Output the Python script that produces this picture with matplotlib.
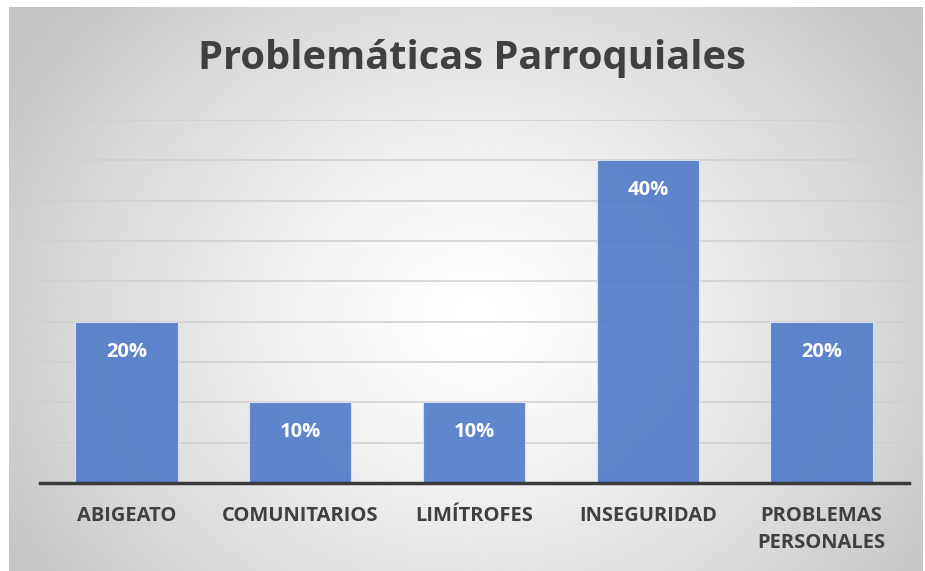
import matplotlib.pyplot as plt
import numpy as np

# Data
categories = ['ABIGEATO', 'COMUNITARIOS', 'LIMÍTROFES', 'INSEGURIDAD', 'PROBLEMAS\nPERSONALES']
shares = [0.20, 0.10, 0.10, 0.40, 0.20]
labels = ['20%', '10%', '10%', '40%', '20%']

W, H = 925, 571
fig = plt.figure(figsize=(W / 100, H / 100), dpi=100)
fig.patch.set_facecolor('white')

# radial gradient background for the chart box
bg = fig.add_axes([9 / W, 0, (W - 11) / W, (H - 7) / H])
yy, xx = np.mgrid[0:300, 0:500]
cx, cy = 255, 165
r = np.sqrt(((xx - cx) / 300.0) ** 2 + ((yy - cy) / 250.0) ** 2)
r = np.clip(r, 0, 1)
shade = 1.0 - 0.23 * r ** 1.3
bg.imshow(shade, cmap='gray', vmin=0, vmax=1, aspect='auto', interpolation='bilinear')
bg.axis('off')

ax = fig.add_axes([39.5 / W, (H - 483) / H, (908.5 - 39.5) / W, (483 - 120) / H])
ax.patch.set_alpha(0)

x = np.arange(len(categories))
bars = ax.bar(x, shares, width=0.59, color='#4f7ac8', alpha=0.9,
              edgecolor='#dce6f5', linewidth=0.8, zorder=3)

for xi, v, lab in zip(x, shares, labels):
    ax.annotate(lab, (xi, v), xytext=(0, -21.5), textcoords='offset points',
                ha='center', va='center', color='white', fontsize=14.5,
                fontweight='bold', family='Open Sans', zorder=4)

ax.set_xlim(-0.5, len(categories) - 0.5)
ax.set_ylim(0, 0.45)
ax.set_yticks(np.arange(0.05, 0.451, 0.05))
ax.yaxis.grid(True, color='#cfcfcf', linewidth=1.1, zorder=0)
ax.tick_params(axis='y', left=False, labelleft=False)
ax.tick_params(axis='x', bottom=False, pad=13)
ax.set_xticks(x)
ax.set_xticklabels(categories, fontsize=14.5, fontweight='bold', color='#404040',
                   family='Open Sans', linespacing=1.45, va='top')
for s in ['top', 'right', 'left']:
    ax.spines[s].set_visible(False)
ax.spines['bottom'].set_color('#3a3a3a')
ax.spines['bottom'].set_linewidth(2.5)
ax.spines['bottom'].set_zorder(5)

fig.text(472 / W, 1 - 58 / H, 'Problemáticas Parroquiales', ha='center', va='center',
         fontsize=28.7, fontweight='bold', color='#404040', family='Open Sans')

fig.savefig('out.png', dpi=100)
